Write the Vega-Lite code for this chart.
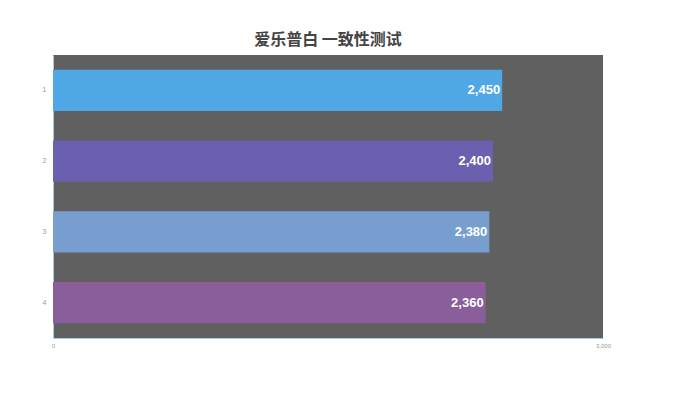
{
  "$schema": "https://vega.github.io/schema/vega-lite/v6.json",
  "autosize": {"type": "none"},
  "padding": {"left": 53, "top": 55, "right": 77, "bottom": 76},
  "width": 550,
  "height": 283,
  "background": "#ffffff",
  "title": {
    "text": "爱乐普白 一致性测试",
    "fontSize": 16,
    "fontWeight": "bold",
    "color": "#444444",
    "font": "Noto Sans CJK SC",
    "offset": 7,
    "anchor": "middle"
  },
  "data": {
    "values": [
      {"item": "1", "value": 2450},
      {"item": "2", "value": 2400},
      {"item": "3", "value": 2380},
      {"item": "4", "value": 2360}
    ]
  },
  "encoding": {
    "y": {
      "field": "item",
      "type": "nominal",
      "title": null,
      "scale": {"paddingInner": 0.42, "paddingOuter": 0.21},
      "axis": {
        "ticks": false,
        "domainColor": "#a9cfe0",
        "labelFontSize": 7,
        "labelColor": "#999999",
        "labelPadding": 7
      }
    },
    "x": {
      "field": "value",
      "type": "quantitative",
      "title": null,
      "scale": {"domain": [0, 3000]},
      "axis": {
        "values": [0, 3000],
        "format": ",.0f",
        "grid": false,
        "ticks": false,
        "domainColor": "#a9cfe0",
        "labelFontSize": 6,
        "labelColor": "#999999",
        "labelPadding": 4,
        "labelFlush": false
      }
    }
  },
  "layer": [
    {
      "mark": {"type": "bar"},
      "encoding": {
        "color": {
          "field": "item",
          "type": "nominal",
          "legend": null,
          "scale": {
            "domain": ["1", "2", "3", "4"],
            "range": ["#4fa7e6", "#6b5fb0", "#779ecf", "#8a5e9a"]
          }
        }
      }
    },
    {
      "mark": {
        "type": "text",
        "align": "right",
        "dx": -2,
        "fontSize": 13,
        "fontWeight": "bold",
        "color": "#ffffff",
        "font": "Liberation Sans"
      },
      "encoding": {
        "text": {"field": "value", "type": "quantitative", "format": ",.0f"}
      }
    }
  ],
  "config": {
    "view": {"fill": "#606060", "stroke": null},
    "axis": {"labelFont": "Liberation Sans"}
  }
}
